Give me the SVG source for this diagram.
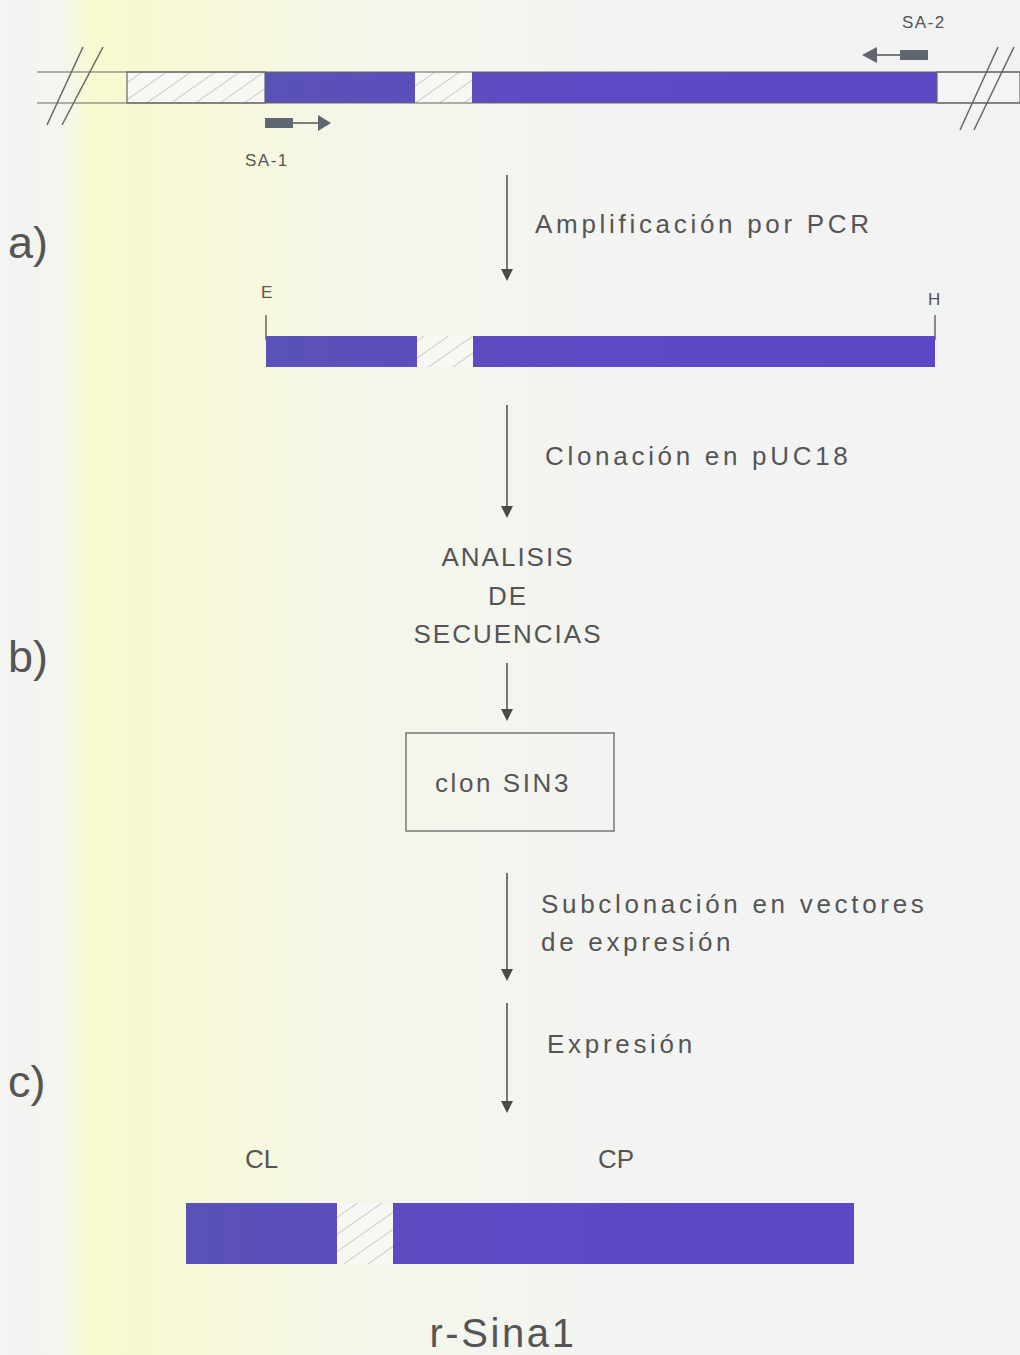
<svg xmlns="http://www.w3.org/2000/svg" width="1020" height="1355" viewBox="0 0 1020 1355">
<defs>
<linearGradient id="bg" x1="0" y1="0" x2="1" y2="0">
<stop offset="0" stop-color="#f3f4f3"/>
<stop offset="0.06" stop-color="#f4f5ef"/>
<stop offset="0.09" stop-color="#f8f9cf"/>
<stop offset="0.2" stop-color="#f7f8d8"/>
<stop offset="0.35" stop-color="#f5f6ea"/>
<stop offset="0.6" stop-color="#f3f4f2"/>
<stop offset="1" stop-color="#f1f2f3"/>
</linearGradient>
<linearGradient id="pur" x1="0" y1="0" x2="1" y2="0">
<stop offset="0" stop-color="#5a52b6"/>
<stop offset="0.5" stop-color="#5e49c6"/>
<stop offset="1" stop-color="#5a48c4"/>
</linearGradient>
<pattern id="hatch" patternUnits="userSpaceOnUse" width="14" height="14" patternTransform="rotate(-35)">
<rect width="14" height="14" fill="#f7f7f4"/>
<line x1="0" y1="0" x2="14" y2="0" stroke="#aaaaa6" stroke-width="1.1"/>
</pattern>
<marker id="ah" markerWidth="12" markerHeight="12" refX="10" refY="6" orient="auto" markerUnits="userSpaceOnUse" viewBox="0 0 12 12">
<path d="M0,0 L12,6 L0,12 Z" fill="#4a4a4a"/>
</marker>
<style>
.t{font-family:"Liberation Sans",Arial,sans-serif;fill:#555;}
.lbl{font-size:26px;letter-spacing:3.7px;}
.sec{font-size:45px;}
.gl{stroke:#666;stroke-width:1.5;fill:none;}
.ar{stroke:#4a4a4a;stroke-width:1.5;fill:none;marker-end:url(#ah);}
</style>
</defs>
<rect width="1020" height="1355" fill="url(#bg)"/>

<g id="gene-genomic">
<rect x="127" y="72" width="138" height="31" fill="url(#hatch)" stroke="#666" stroke-width="1.2"/>
<rect x="265" y="72" width="672" height="31" fill="url(#pur)"/>
<rect x="415" y="72" width="57" height="31" fill="url(#hatch)"/>
<rect x="937" y="72" width="83" height="31" fill="#f3f4f3" stroke="#666" stroke-width="1.2"/>
<line x1="37" y1="72" x2="1020" y2="72" stroke="#666" stroke-width="1.2"/>
<line x1="37" y1="103" x2="1020" y2="103" stroke="#666" stroke-width="1.2"/>
<line class="gl" x1="47" y1="125" x2="83" y2="47"/>
<line class="gl" x1="62" y1="125" x2="103" y2="47"/>
<line class="gl" x1="960" y1="130" x2="998" y2="47"/>
<line class="gl" x1="974" y1="130" x2="1014" y2="47"/>
</g>

<g id="primer-SA1">
<rect x="265" y="118" width="28" height="10" fill="#5e6670"/>
<line x1="293" y1="123" x2="320" y2="123" stroke="#555" stroke-width="1.5"/>
<path d="M318,115 L331,123 L318,131 Z" fill="#5e6670"/>
<text class="t" x="245" y="166" font-size="17" letter-spacing="1.5">SA-1</text>
</g>

<g id="primer-SA2">
<rect x="900" y="50" width="28" height="10" fill="#5e6670"/>
<line x1="875" y1="55" x2="900" y2="55" stroke="#555" stroke-width="1.5"/>
<path d="M877,47 L862,55 L877,63 Z" fill="#5e6670"/>
<text class="t" x="902" y="28" font-size="17" letter-spacing="1.5">SA-2</text>
</g>

<g id="pcr-product">
<text class="t" x="261" y="298" font-size="17">E</text>
<text class="t" x="928" y="305" font-size="17">H</text>
<line class="gl" x1="266" y1="315" x2="266" y2="340"/>
<line class="gl" x1="935" y1="315" x2="935" y2="340"/>
<rect x="266" y="336" width="669" height="31" fill="url(#pur)"/>
<rect x="417" y="336" width="56" height="31" fill="url(#hatch)"/>
</g>

<g id="analisis">
<text class="t" font-size="26" text-anchor="middle" letter-spacing="2"><tspan x="508" y="566">ANALISIS</tspan><tspan x="508" y="605">DE</tspan><tspan x="508" y="643">SECUENCIAS</tspan></text>
</g>

<g id="clon-SIN3">
<rect x="406" y="733" width="208" height="98" fill="none" stroke="#777" stroke-width="1.5"/>
<text class="t" x="503" y="792" font-size="26" text-anchor="middle" letter-spacing="2.6">clon SIN3</text>
</g>

<g id="r-Sina1">
<text class="t" x="245" y="1168" font-size="26">CL</text>
<text class="t" x="598" y="1168" font-size="26">CP</text>
<rect x="186" y="1203" width="668" height="61" fill="url(#pur)"/>
<rect x="337" y="1203" width="56" height="61" fill="url(#hatch)"/>
<text class="t" x="503" y="1347" font-size="40" text-anchor="middle" letter-spacing="2.6">r-Sina1</text>
</g>

<g id="section-labels">
<text class="t sec" x="8" y="258">a)</text>
<text class="t sec" x="8" y="672">b)</text>
<text class="t sec" x="8" y="1097">c)</text>
</g>

<g id="connectors">
<line class="ar" x1="507" y1="175" x2="507" y2="279"/>
<line class="ar" x1="507" y1="405" x2="507" y2="516"/>
<line class="ar" x1="507" y1="663" x2="507" y2="719"/>
<line class="ar" x1="507" y1="873" x2="507" y2="979"/>
<line class="ar" x1="507" y1="1003" x2="507" y2="1111"/>
<text class="t lbl" x="535" y="233">Amplificación por PCR</text>
<text class="t lbl" x="545" y="465">Clonación en pUC18</text>
<text class="t lbl" x="541" y="913">Subclonación en vectores</text>
<text class="t lbl" x="541" y="951">de expresión</text>
<text class="t lbl" x="547" y="1053">Expresión</text>
</g>
</svg>
